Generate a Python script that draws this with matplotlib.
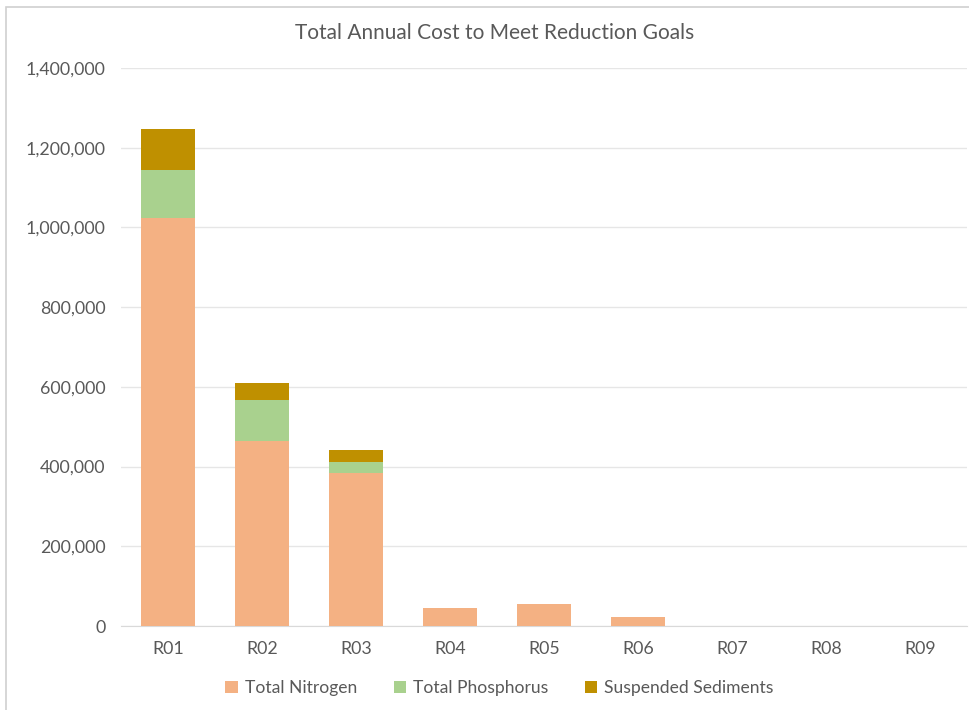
import numpy as np
import matplotlib.pyplot as plt
from matplotlib.patches import Rectangle
from matplotlib.ticker import FuncFormatter

regions = ['R01', 'R02', 'R03', 'R04', 'R05', 'R06', 'R07', 'R08', 'R09']
nitrogen = [1024000, 465000, 383000, 44000, 56000, 23000, 0, 0, 0]
phosphorus = [120000, 102000, 29000, 0, 0, 0, 0, 0, 0]
sediments = [104000, 42000, 30000, 0, 0, 0, 0, 0, 0]

colors = ['#f4b183', '#a9d18e', '#bf9000']
text_gray = '#595959'

plt.rcParams['font.family'] = ['Lato', 'DejaVu Sans']

fig = plt.figure(figsize=(9.7, 7.1), dpi=100)
ax = fig.add_axes([0.1247, 0.1183, 0.8723, 0.7859])

x = np.arange(len(regions))
n = np.array(nitrogen)
p = np.array(phosphorus)
s = np.array(sediments)
w = 0.575
ax.bar(x, n, w, color=colors[0], label='Total Nitrogen', zorder=3)
ax.bar(x, p, w, bottom=n, color=colors[1], label='Total Phosphorus', zorder=3)
ax.bar(x, s, w, bottom=n + p, color=colors[2], label='Suspended Sediments', zorder=3)

ax.set_xlim(-0.5, len(regions) - 0.5)
ax.set_ylim(0, 1400000)
ax.set_yticks(np.arange(0, 1400001, 200000))
ax.yaxis.set_major_formatter(FuncFormatter(lambda v, _: f'{int(v):,}'))
ax.set_xticks(x)
ax.set_xticklabels(regions)
ax.tick_params(length=0, labelsize=12.8, colors=text_gray)
ax.tick_params(axis='x', pad=11)
ax.tick_params(axis='y', pad=11)

ax.grid(axis='y', color='#e6e6e6', linewidth=1, zorder=0)
for side in ['top', 'right', 'left']:
    ax.spines[side].set_visible(False)
ax.spines['bottom'].set_color('#d9d9d9')

fig.text(0.51, 0.953, 'Total Annual Cost to Meet Reduction Goals',
         ha='center', va='center', fontsize=15, color=text_gray)

fig.legend(loc='center', bbox_to_anchor=(0.515, 0.031), ncol=3, frameon=False,
           fontsize=12.6, handlelength=0.7, handleheight=0.7, handletextpad=0.4,
           columnspacing=2.1, labelcolor=text_gray)

# light border round the chart area
fig.patches.append(Rectangle((0.006, -0.01), 1.1, 1.0, transform=fig.transFigure,
                             fill=False, edgecolor='#d0d0d0', linewidth=1.2))

fig.savefig('out.png', dpi=100)
